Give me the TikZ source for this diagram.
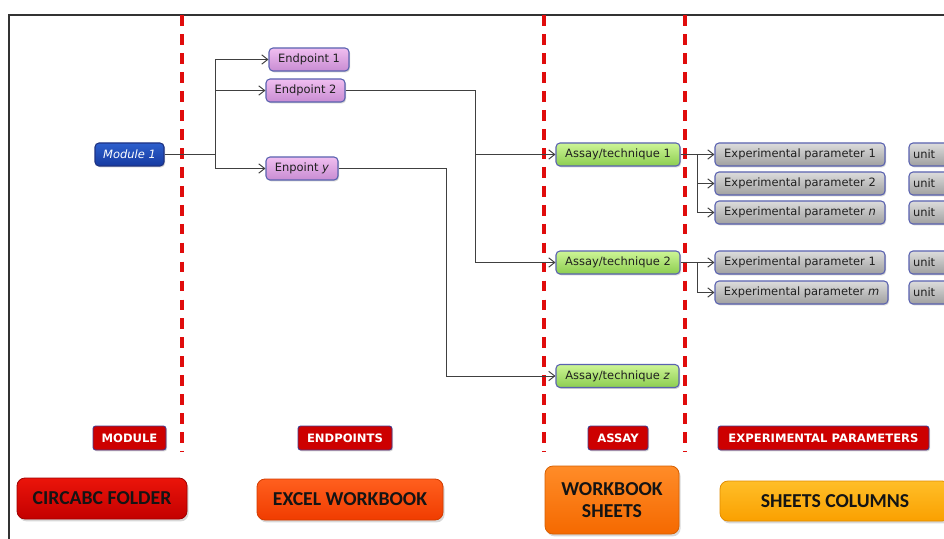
\documentclass[tikz,border=0pt]{standalone}
\usepackage{fontspec}
\setmainfont{DejaVu Sans}
\newfontfamily\calfont{Carlito}
\usetikzlibrary{arrows.meta,shadows}
\definecolor{dashred}{HTML}{E00C0C}
\definecolor{conncol}{HTML}{404040}
\definecolor{boxborder}{HTML}{5A62B0}
\tikzset{
  box/.style={draw=boxborder, line width=0.8pt, rounded corners=3pt, minimum height=17.25pt,
    inner xsep=2pt, inner ysep=0pt, font=\fontsize{8.6}{10}\selectfont, text=black!88,
    drop shadow={shadow xshift=0.8pt, shadow yshift=-1pt, opacity=0.35}},
  modbox/.style={box, top color={rgb,255:red,45;green,95;blue,205}, bottom color={rgb,255:red,22;green,58;blue,160},
    draw={rgb,255:red,30;green,50;blue,130}, text=white, font=\fontsize{8.6}{10}\selectfont\itshape},
  endbox/.style={box, top color={rgb,255:red,240;green,190;blue,240}, bottom color={rgb,255:red,200;green,140;blue,210}},
  assaybox/.style={box, top color={rgb,255:red,205;green,245;blue,150}, bottom color={rgb,255:red,140;green,205;blue,80}},
  parbox/.style={box, top color={rgb,255:red,220;green,220;blue,220}, bottom color={rgb,255:red,160;green,160;blue,160}},
  tagbox/.style={draw={rgb,255:red,70;green,60;blue,140}, line width=0.7pt, rounded corners=2pt, fill={rgb,255:red,205;green,0;blue,0},
    text=white, font=\fontsize{8.7}{10}\selectfont\bfseries, minimum height=18pt, inner sep=0pt,
    drop shadow={shadow xshift=0.8pt, shadow yshift=-1pt, opacity=0.3}},
  bigbox/.style={rounded corners=6pt, font=\calfont\fontsize{14.8}{17}\selectfont\bfseries, text=black!92,
    inner sep=0pt, align=center, line width=0.6pt,
    drop shadow={shadow xshift=1.2pt, shadow yshift=-1.8pt, opacity=0.3}},
  conn/.style={draw=conncol, line width=0.75pt},
  arr/.style={conn, -{Straight Barb[length=4.5pt, width=7pt, line width=0.7pt]}},
  divline/.style={draw=dashred, line width=2.4pt, dash pattern=on 8pt off 6.2pt}
}
\begin{document}
\begin{tikzpicture}[x=0.75pt, y=-0.75pt]
\useasboundingbox (0,0) rectangle (944,538);
\clip (0,0) rectangle (944,538);
\fill[white] (0,0) rectangle (944,538);
% frame
\draw[line width=0.9pt, black!80] (9,545) -- (9,15) -- (950,15);

% dividers
\foreach \xx in {182,544,685}{
  \draw[divline] (\xx,15.5) -- (\xx,452);
}

% nodes
\node[modbox, minimum width=51.75pt] (m1) at (129.5,154.5) {Module 1};
\node[endbox, minimum width=60pt] (e1) at (309,59.5) {Endpoint 1};
\node[endbox, minimum width=59.25pt] (e2) at (305.5,90.5) {Endpoint 2};
\node[endbox, minimum width=54pt] (ey) at (302,168.5) {Enpoint \textit{y}};
\node[assaybox, minimum width=93pt] (a1) at (618,154.5) {Assay/technique 1};
\node[assaybox, minimum width=93pt] (a2) at (618,262.5) {Assay/technique 2};
\node[assaybox, minimum width=92.25pt] (az) at (617.5,376) {Assay/technique \textit{z}};
\node[parbox, minimum width=127.5pt] (p11) at (800,154.5) {Experimental parameter 1};
\node[parbox, minimum width=127.5pt] (p12) at (800,183.5) {Experimental parameter 2};
\node[parbox, minimum width=127.5pt] (p1n) at (800,212.5) {Experimental parameter \textit{n}};
\node[parbox, minimum width=127.5pt] (p21) at (800,262.5) {Experimental parameter 1};
\node[parbox, minimum width=129.75pt] (p2m) at (801.5,292.5) {Experimental parameter \textit{m}};
\foreach \yy/\nm in {154.5/u1,183.5/u2,212.5/u3,262.5/u4,292.5/u5}{
  \node[parbox, minimum width=42pt, text width=36pt, align=left] (\nm) at (937,\yy) {unit};
}

% connectors
\coordinate (j1) at (215,154.5);
\draw[conn] (m1.east) -- (j1);
\draw[arr] (j1) |- (e1.west);
\draw[arr] (j1) |- (e2.west);
\draw[arr] (j1) |- (ey.west);
\coordinate (j2) at (475.7,154.5);
\draw[arr] (e2.east) -| (j2) -- (a1.west);
\draw[arr] (j2) |- (a2.west);
\coordinate (j3) at (446.7,168.5);
\draw[arr] (ey.east) -- (j3) |- (az.west);
\coordinate (j4) at (697,154.5);
\draw[arr] (a1.east) -- (p11.west);
\draw[arr] (j4) |- (p12.west);
\draw[arr] (j4) |- (p1n.west);
\coordinate (j5) at (697,262.5);
\draw[arr] (a2.east) -- (p21.west);
\draw[arr] (j5) |- (p2m.west);

% tags
\node[tagbox, minimum width=54.75pt] (t1) at (129.5,438) {MODULE};
\node[tagbox, minimum width=70.5pt] (t2) at (345,438) {ENDPOINTS};
\node[tagbox, minimum width=45pt] (t3) at (618,438) {ASSAY};
\node[tagbox, minimum width=158.25pt] (t4) at (823.5,438) {EXPERIMENTAL PARAMETERS};

% big labels
\node[bigbox, draw={rgb,255:red,160;green,0;blue,0}, top color={rgb,255:red,235;green,20;blue,10}, bottom color={rgb,255:red,195;green,0;blue,0},
  minimum width=127.5pt, minimum height=30.75pt] (b1) at (102,498.5) {CIRCABC FOLDER};
\node[bigbox, draw={rgb,255:red,210;green,60;blue,0}, top color={rgb,255:red,255;green,95;blue,30}, bottom color={rgb,255:red,240;green,60;blue,0},
  minimum width=139.5pt, minimum height=30.75pt] (b2) at (350,499.5) {EXCEL WORKBOOK};
\node[bigbox, draw={rgb,255:red,215;green,95;blue,0}, top color={rgb,255:red,255;green,140;blue,40}, bottom color={rgb,255:red,245;green,105;blue,0},
  minimum width=100.5pt, minimum height=51pt] (b3) at (612,500) {WORKBOOK\\[-1pt]SHEETS};
\node[bigbox, draw={rgb,255:red,225;green,140;blue,0}, top color={rgb,255:red,255;green,190;blue,40}, bottom color={rgb,255:red,250;green,160;blue,0},
  minimum width=172.5pt, minimum height=30pt] (b4) at (835,501) {SHEETS COLUMNS};
\end{tikzpicture}
\end{document}
